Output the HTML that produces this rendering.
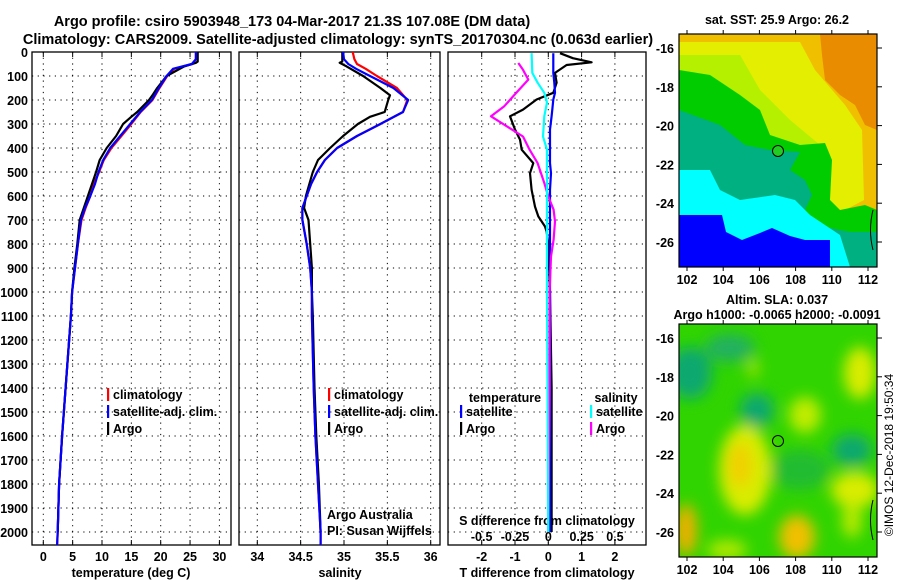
<!DOCTYPE html>
<html><head><meta charset="utf-8"><style>
body{margin:0;background:#fff;}
svg{display:block;font-family:"Liberation Sans",Arial,sans-serif;}
.b{font-weight:bold;font-size:12.5px;}
</style></head><body>
<svg id="c" width="900" height="580" viewBox="0 0 900 580">
<defs>
<clipPath id="cp1"><rect x="32" y="52" width="199" height="493"/></clipPath>
<clipPath id="cp2"><rect x="239" y="52" width="201" height="493"/></clipPath>
<clipPath id="cp3"><rect x="448" y="52" width="198" height="493"/></clipPath>
<clipPath id="cm1"><rect x="679" y="34" width="198" height="233"/></clipPath>
<clipPath id="cm2"><rect x="679" y="324" width="198" height="233"/></clipPath>
<filter id="bl" x="-50%" y="-50%" width="200%" height="200%"><feGaussianBlur stdDeviation="7"/></filter>
</defs>
<text x="292" y="26" text-anchor="middle" font-size="14.5" font-weight="bold">Argo profile: csiro 5903948_173 04-Mar-2017 21.3S 107.08E (DM data)</text>
<text x="338" y="44" text-anchor="middle" font-size="14.5" font-weight="bold">Climatology: CARS2009. Satellite-adjusted climatology: synTS_20170304.nc (0.063d earlier)</text>
<g id="g"></g>

<!-- Map 1 -->
<g>
<text x="777" y="24" text-anchor="middle" class="b">sat. SST: 25.9 Argo: 26.2</text>
<g clip-path="url(#cm1)">
<rect x="679" y="34" width="198" height="233" fill="#f0c000"/>
<path d="M820,34 L877,34 L877,130 L865,125 L855,105 L840,95 L825,80 L822,55 Z" fill="#e98c00"/>
<path d="M679,42 L800,42 L815,70 L845,105 L862,130 L864,200 L845,210 L845,245 L679,245 Z" fill="#e4ee00"/>
<path d="M679,55 L740,55 L760,90 L790,120 L820,145 L830,200 L679,200 Z" fill="#b4f000"/>
<path d="M679,70 L710,75 L740,95 L760,110 L770,135 L800,145 L825,143 L832,160 L830,200 L840,210 L865,205 L877,210 L877,267 L679,267 Z" fill="#00cc00"/>
<path d="M679,110 L720,125 L745,145 L770,150 L800,152 L790,170 L805,180 L812,195 L805,210 L815,225 L850,232 L877,232 L877,267 L679,267 Z" fill="#00b080"/>
<path d="M679,170 L710,170 L720,190 L740,200 L775,195 L795,200 L810,215 L825,225 L840,235 L850,267 L679,267 Z" fill="#00ffff"/>
<path d="M679,215 L722,215 L726,232 L742,240 L760,233 L772,228 L790,236 L805,240 L830,240 L830,267 L679,267 Z" fill="#0000ff"/>
<path d="M873,210 Q868,230 873,250" fill="none" stroke="#000" stroke-width="1"/>
</g>
<rect x="679" y="34" width="198" height="233" fill="none" stroke="#000" stroke-width="1.2"/>
<circle cx="778" cy="151" r="5.5" fill="#22cc22" stroke="#000" stroke-width="1"/>
</g>

<!-- Map 2 -->
<g>
<text x="777" y="304" text-anchor="middle" class="b">Altim. SLA: 0.037</text>
<text x="777" y="319" text-anchor="middle" class="b">Argo h1000: -0.0065 h2000: -0.0091</text>
<g clip-path="url(#cm2)">
<rect x="679" y="324" width="198" height="233" fill="#30d400"/>
<g filter="url(#bl)">
<ellipse cx="690" cy="373" rx="22" ry="26" fill="#10a870"/>
<ellipse cx="730" cy="348" rx="25" ry="14" fill="#20b060"/>
<ellipse cx="757" cy="410" rx="17" ry="17" fill="#10a870"/>
<ellipse cx="852" cy="450" rx="20" ry="16" fill="#10a870"/>
<ellipse cx="800" cy="470" rx="30" ry="20" fill="#20bc30"/>
<ellipse cx="745" cy="470" rx="26" ry="45" fill="#d8ec00"/>
<ellipse cx="740" cy="465" rx="12" ry="22" fill="#f0d000"/>
<ellipse cx="860" cy="373" rx="16" ry="26" fill="#d8ec00"/>
<ellipse cx="855" cy="490" rx="24" ry="18" fill="#d8ec00"/>
<ellipse cx="852" cy="520" rx="10" ry="18" fill="#b8ea00"/>
<ellipse cx="797" cy="537" rx="18" ry="22" fill="#f0c000"/>
<ellipse cx="686" cy="530" rx="11" ry="26" fill="#f0b000"/>
<ellipse cx="805" cy="415" rx="16" ry="18" fill="#c0ec00"/>
<ellipse cx="727" cy="550" rx="20" ry="10" fill="#b0e800"/>
<ellipse cx="753" cy="368" rx="6" ry="10" fill="#a0e400"/>
</g>
<path d="M873,500 Q868,520 873,540" fill="none" stroke="#000" stroke-width="1"/>
</g>
<rect x="679" y="324" width="198" height="233" fill="none" stroke="#000" stroke-width="1.2"/>
<circle cx="778" cy="441" r="5.5" fill="none" stroke="#000" stroke-width="1"/>
</g>
<text transform="translate(893,455) rotate(-90)" text-anchor="middle" font-size="12">©IMOS 12-Dec-2018 19:50:34</text>
</svg>
<script>
// ---- data ----
const depthClim=[0,30,50,70,100,150,200,250,300,350,400,450,500,550,600,650,700,800,900,1000,1100,1400,1600,1800,2000,2055];
const tempClim=[26.0,26.0,25.4,22.3,21.1,19.8,18.6,16.6,15.0,13.3,11.6,10.3,9.5,8.6,8.0,7.2,6.5,5.9,5.4,4.9,4.7,3.8,3.2,2.7,2.45,2.35];
const tempSat=[26.0,26.0,25.3,22.1,21.0,19.7,18.5,16.5,14.8,13.1,11.4,10.2,9.4,8.8,8.0,7.1,6.4,5.9,5.4,4.9,4.7,3.8,3.2,2.7,2.45,2.35];
const salClim=[35.10,35.12,35.15,35.25,35.38,35.61,35.73,35.68,35.42,35.15,34.92,34.78,34.69,34.62,34.57,34.52,34.52,34.57,34.61,34.63,34.63,34.65,34.67,34.70,34.73,34.73];
const salSat=[34.99,35.00,35.05,35.14,35.30,35.57,35.74,35.68,35.42,35.15,34.92,34.78,34.69,34.62,34.57,34.52,34.52,34.57,34.61,34.63,34.63,34.65,34.67,34.70,34.73,34.73];
const depthArgo=[0,40,45,60,100,150,180,200,250,270,300,350,400,450,500,600,650,700,800,900,1000,1100,1400,1600,1800,2000];
const tempArgo=[26.3,26.3,26.0,24.0,21.0,19.4,18.6,18.0,16.0,15.0,13.6,12.4,10.8,9.6,9.0,7.6,6.9,6.2,5.8,5.3,4.9,4.7,3.8,3.2,2.7,2.45];
const salArgo=[34.98,34.98,34.95,35.03,35.22,35.42,35.53,35.51,35.47,35.30,35.16,34.99,34.84,34.70,34.64,34.56,34.54,34.59,34.61,34.63,34.63,34.64,34.66,34.68,34.71,34.73];
const dTdepth=[5,26,43,54,87,128,170,198,240,268,323,365,407,463,505,574,644,685,727,748,800,1000,1400,2000];
const dTArgo=[0.35,0.74,1.30,0.55,0.20,0.25,0.15,-0.35,-0.76,-1.15,-1.0,-0.85,-0.8,-0.45,-0.55,-0.5,-0.4,-0.3,-0.1,-0.05,0.0,0.05,0.1,0.1];
const dTSat=[0.15,0.15,0.15,0.15,0.15,0.18,0.2,0.15,0.12,0.1,0.05,0.05,0.05,0.05,0.08,0.05,0.05,0.05,0.05,0.05,0.05,0.05,0.05,0.05];
const dSdepth=[46,74,115,170,226,268,310,352,407,463,546,602,657,706,782,852,1000,1400,2000];
const dSArgo=[-0.225,-0.19,-0.15,-0.24,-0.33,-0.43,-0.31,-0.19,-0.14,-0.08,-0.03,0,0.04,0.05,0.04,0.02,0.01,0.01,0.0];
const dSSatDepth=[5,87,128,170,210,268,352,407,1000,2000];
const dSSat=[-0.125,-0.12,-0.08,-0.03,-0.01,-0.03,-0.04,-0.01,-0.01,0];
const depthTicks=[0,100,200,300,400,500,600,700,800,900,1000,1100,1200,1300,1400,1500,1600,1700,1800,1900,2000];
const tempTicks=[0,5,10,15,20,25,30];
const salTicks=[34,34.5,35,35.5,36];
const dTTicks=[-2,-1,0,1,2];
const dSTicks=[-0.5,-0.25,0,0.25,0.5];
const latTicks=[-16,-18,-20,-22,-24,-26];
const lonTicks=[102,104,106,108,110,112];

// ---- scales ----
const TOP=52,BOT=545;
const y=d=>TOP+d*0.24;
const xT=t=>43.3+t*5.87;
const xS=s=>257.3+(s-34)*86.7;
const xDT=t=>548.3+t*33.3;
const xDS=s=>548.3+s*133.3;
const lonX=l=>687+(l-102)*18.1;
const latY1=l=>48+(-16-l)*19.4;
const latY2=l=>338+(-16-l)*19.4;

const NS='http://www.w3.org/2000/svg';
const G=document.getElementById('g');
function mk(tag,attrs,parent){const e=document.createElementNS(NS,tag);for(const k in attrs)e.setAttribute(k,attrs[k]);(parent||G).appendChild(e);return e;}
function txt(x,yy,s,anchor,cls,parent){const e=mk('text',{x:x,y:yy,'text-anchor':anchor||'start','class':cls||'b'},parent);e.textContent=s;return e;}

const panels=[[32,231,'cp1'],[239,440,'cp2'],[448,646,'cp3']];
panels.forEach((p,i)=>{
  const g=mk('g',{});
  
  
  depthTicks.forEach(d=>{
    const l=mk('line',{x1:p[0],x2:p[1],y1:y(d),y2:y(d),stroke:'#000','stroke-width':1,'stroke-dasharray':'1.2,4.5'},g);
    
    
  });
  const vt=i==0?tempTicks.map(xT):i==1?salTicks.map(xS):dTTicks.map(xDT);
  vt.forEach(x=>{
    const l=mk('line',{x1:x,x2:x,y1:TOP,y2:BOT,stroke:'#000','stroke-width':1,'stroke-dasharray':'1.2,4.5'},g);
    
    
    mk('line',{x1:x,x2:x,y1:BOT,y2:BOT-5,stroke:'#000'},g);
    mk('line',{x1:x,x2:x,y1:TOP,y2:TOP+5,stroke:'#000'},g);
  });
  const r=mk('rect',{x:p[0],y:TOP,width:p[1]-p[0],height:BOT-TOP,fill:'none',stroke:'#000','stroke-width':1.3},g);
  
  
});

depthTicks.forEach(d=>{
  const t=txt(28,y(d)+5,String(d),'end');
  
  
});
tempTicks.forEach(v=>{const t=txt(xT(v),561,String(v),'middle');});
salTicks.forEach(v=>{const t=txt(xS(v),561,String(v),'middle');});
dTTicks.forEach(v=>{const t=txt(xDT(v),561,String(v),'middle');});
dSTicks.forEach(v=>{const t=txt(xDS(v),541,String(v),'middle');});
[[131,'temperature (deg C)','temp-axis-title'],[340,'salinity','sal-axis-title'],[547,'T difference from climatology','tdiff-axis-title']].forEach(a=>{
  const t=txt(a[0],577,a[1],'middle');
});
{const t=txt(547,525,'S difference from climatology','middle');}

function line(xs,ds,fx,color,clip,name){
  const pts=xs.map((v,i)=>fx(v).toFixed(1)+','+y(ds[i]).toFixed(1)).join(' ');
  const e=mk('polyline',{points:pts,fill:'none',stroke:color,'stroke-width':2.2,'stroke-linejoin':'round','clip-path':'url(#'+clip+')'});
  
  
}
line(tempClim,depthClim,xT,'#ff0000','cp1','temp-climatology-line');
line(tempArgo,depthArgo,xT,'#000000','cp1','temp-argo-line');
line(tempSat,depthClim,xT,'#0000ff','cp1','temp-satellite-line');
line(salClim,depthClim,xS,'#ff0000','cp2','sal-climatology-line');
line(salArgo,depthArgo,xS,'#000000','cp2','sal-argo-line');
line(salSat,depthClim,xS,'#0000ff','cp2','sal-satellite-line');
line(dTArgo,dTdepth,xDT,'#000000','cp3','tdiff-argo-line');
line(dTSat,dTdepth,xDT,'#0000ff','cp3','tdiff-satellite-line');
line(dSArgo,dSdepth,xDS,'#ff00ff','cp3','sdiff-argo-line');
line(dSSat,dSSatDepth,xDS,'#00ffff','cp3','sdiff-satellite-line');

function leg(x,yy,color,label,name){
  const g=mk('g',{});
  
  
  mk('rect',{x:x,y:yy-10,width:2.2,height:13,fill:color},g);
  txt(x+6,yy+1,label,'start','b',g);
}
leg(107,398,'#ff0000','climatology','legend-temp-climatology');
leg(107,415,'#0000ff','satellite-adj. clim.','legend-temp-satellite');
leg(107,432,'#000000','Argo','legend-temp-argo');
leg(328,398,'#ff0000','climatology','legend-sal-climatology');
leg(328,415,'#0000ff','satellite-adj. clim.','legend-sal-satellite');
leg(328,432,'#000000','Argo','legend-sal-argo');
{const t=txt(505,402,'temperature','middle');}
{const t=txt(616,402,'salinity','middle');}
leg(460,415,'#0000ff','satellite','legend-tdiff-satellite');
leg(460,432,'#000000','Argo','legend-tdiff-argo');
leg(590,415,'#00ffff','satellite','legend-sdiff-satellite');
leg(590,432,'#ff00ff','Argo','legend-sdiff-argo');
{const t=txt(327,519,'Argo Australia','start','');t.setAttribute('font-size','12');}
{const t=txt(327,535,'PI: Susan Wijffels','start','');t.setAttribute('font-size','12');}

// map axes
[[latY1,267,34],[latY2,557,324]].forEach((m,mi)=>{
  latTicks.forEach(l=>{
    const t=txt(674,m[0](l)+5,String(l),'end');
    
    
    mk('line',{x1:679,x2:683,y1:m[0](l),y2:m[0](l),stroke:'#000'});
    mk('line',{x1:877,x2:882,y1:m[0](l),y2:m[0](l),stroke:'#000'});
  });
  lonTicks.forEach(l=>{
    const t=txt(lonX(l),m[1]+17,String(l),'middle');
    
    
    mk('line',{x1:lonX(l),x2:lonX(l),y1:m[1],y2:m[1]+4,stroke:'#000'});
    mk('line',{x1:lonX(l),x2:lonX(l),y1:m[2],y2:m[2]-4,stroke:'#000'});
  });
});
</script>
</body></html>
